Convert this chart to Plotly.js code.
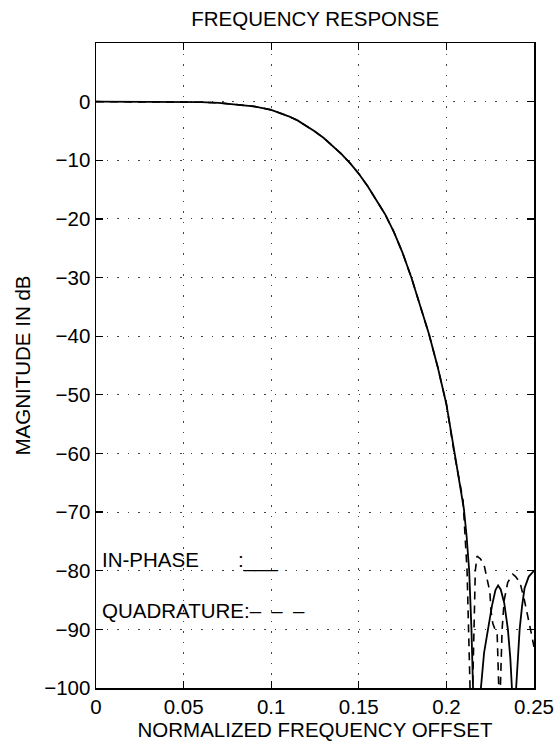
<!DOCTYPE html>
<html>
<head>
<meta charset="utf-8">
<script src="https://cdn.plot.ly/plotly-3.0.1.min.js"></script>
<style>html,body{margin:0;padding:0;background:#fff;}#chart{width:558px;height:751px;}</style>
</head>
<body>
<div id="chart"></div>
<script>
// In-phase response (solid)
const freqInPhase = [0, 0.02, 0.04, 0.05, 0.06, 0.07, 0.08, 0.09, 0.1, 0.105, 0.11, 0.115, 0.12, 0.125, 0.13, 0.135, 0.14, 0.145, 0.15, 0.155, 0.16, 0.165, 0.17, 0.175, 0.18, 0.185, 0.19, 0.195, 0.2, 0.205, 0.2075, 0.21, 0.2115, 0.213, 0.2143, 0.2155, 0.2165, 0.2175, 0.2185, 0.2197, 0.2215, 0.2236, 0.226, 0.228, 0.2295, 0.231, 0.233, 0.2351, 0.2365, 0.2374, 0.238, 0.2386, 0.2392, 0.2398, 0.2408, 0.2418, 0.2432, 0.2446, 0.247, 0.25];
const magInPhase = [0, 0, 0, -0.05, -0.1, -0.2, -0.45, -0.8, -1.4, -1.9, -2.5, -3.2, -4.1, -5.1, -6.2, -7.5, -8.9, -10.5, -12.3, -14.4, -16.7, -19.2, -22.2, -25.8, -30, -34.7, -39.6, -45.2, -51.6, -60.5, -65, -69.5, -74, -80, -90, -100, -110, -125, -110, -100, -94, -90, -86, -83.3, -82.5, -83.2, -85.5, -90, -95, -100, -110, -125, -110, -100, -95, -90, -86, -83, -81, -80];

// Quadrature response (dashed)
const freqQuad = [0, 0.02, 0.04, 0.05, 0.06, 0.07, 0.08, 0.09, 0.1, 0.105, 0.11, 0.115, 0.12, 0.125, 0.13, 0.135, 0.14, 0.145, 0.15, 0.155, 0.16, 0.165, 0.17, 0.175, 0.18, 0.185, 0.19, 0.195, 0.2, 0.2045, 0.2075, 0.2095, 0.2118, 0.2128, 0.2135, 0.2140, 0.2145, 0.2150, 0.2158, 0.2165, 0.2175, 0.2195, 0.2215, 0.2235, 0.2248, 0.2255, 0.2265, 0.229, 0.2295, 0.2299, 0.2303, 0.2308, 0.2318, 0.233, 0.235, 0.2379, 0.2395, 0.242, 0.2445, 0.246, 0.248, 0.25];
const magQuad = [0, 0, 0, -0.05, -0.1, -0.2, -0.45, -0.8, -1.4, -1.9, -2.5, -3.2, -4.1, -5.1, -6.2, -7.5, -8.9, -10.5, -12.3, -14.4, -16.7, -19.2, -22.2, -25.8, -30, -34.7, -39.6, -45.2, -51.6, -60, -64.5, -68, -80, -90, -100, -115, -130, -100, -88, -80, -77.5, -78, -79, -81.5, -83.6, -87, -89, -91, -95, -100, -125, -100, -90, -85, -82, -80.6, -81, -82, -85, -87, -90, -93];

// Axis ticks
const xTickVals = [0, 0.05, 0.1, 0.15, 0.2, 0.25];
const xTickText = ["0", "0.05", "0.1", "0.15", "0.2", "0.25"];
const yTickVals = [0, -10, -20, -30, -40, -50, -60, -70, -80, -90, -100];

const FONT = "Liberation Sans, Arial, Helvetica, sans-serif";
const FS = 20.5;

const traces = [
  {x: freqInPhase, y: magInPhase, mode: "lines", name: "IN-PHASE",
   line: {color: "#000", width: 1.8}},
  {x: freqQuad, y: magQuad, mode: "lines", name: "QUADRATURE",
   line: {color: "#000", width: 1.6, dash: "8px,6px"}}
];

const axisCommon = {
  showline: true, linecolor: "#000", linewidth: 1.5, mirror: "ticks",
  ticks: "inside", ticklen: 7, tickcolor: "#000", tickwidth: 1.2,
  showgrid: true, gridcolor: "#444", gridwidth: 1, griddash: "1.5px,9px",
  zeroline: false, tickfont: {family: FONT, size: FS, color: "#000"}
};

const layout = {
  width: 558, height: 751,
  margin: {l: 96, r: 24, t: 43, b: 63},
  paper_bgcolor: "#fff", plot_bgcolor: "#fff",
  showlegend: false,
  font: {family: FONT, color: "#000", size: FS},
  title: {text: "FREQUENCY RESPONSE", font: {family: FONT, size: FS, color: "#000"},
          x: 0.5649, xanchor: "center", y: 1 - 19/751, yanchor: "middle", yref: "container"},
  xaxis: Object.assign({}, axisCommon, {
    range: [0, 0.25], tickvals: xTickVals, ticktext: xTickText,
    title: {text: "NORMALIZED FREQUENCY OFFSET", font: {family: FONT, size: FS, color: "#000"}, standoff: 4}
  }),
  yaxis: Object.assign({}, axisCommon, {
    range: [-100, 10], tickvals: yTickVals,
    title: {text: "MAGNITUDE IN dB", font: {family: FONT, size: FS, color: "#000"}, standoff: 8}
  }),
  annotations: [
    {x: 0.002, y: -78.1, xref: "x", yref: "y", text: "IN-PHASE", showarrow: false,
     xanchor: "left", yanchor: "middle", font: {family: FONT, size: FS, color: "#000"}},
    {x: 0.0798, y: -78.1, xref: "x", yref: "y", text: ":___", showarrow: false,
     xanchor: "left", yanchor: "middle", font: {family: FONT, size: FS, color: "#000"}},
    {x: 0.002, y: -86.7, xref: "x", yref: "y", text: "QUADRATURE:\u2013\u2002\u2013\u2002\u2013", showarrow: false,
     xanchor: "left", yanchor: "middle", font: {family: FONT, size: FS, color: "#000"}}
  ]
};

Plotly.newPlot("chart", traces, layout, {staticPlot: true, displayModeBar: false});
</script>
</body>
</html>
